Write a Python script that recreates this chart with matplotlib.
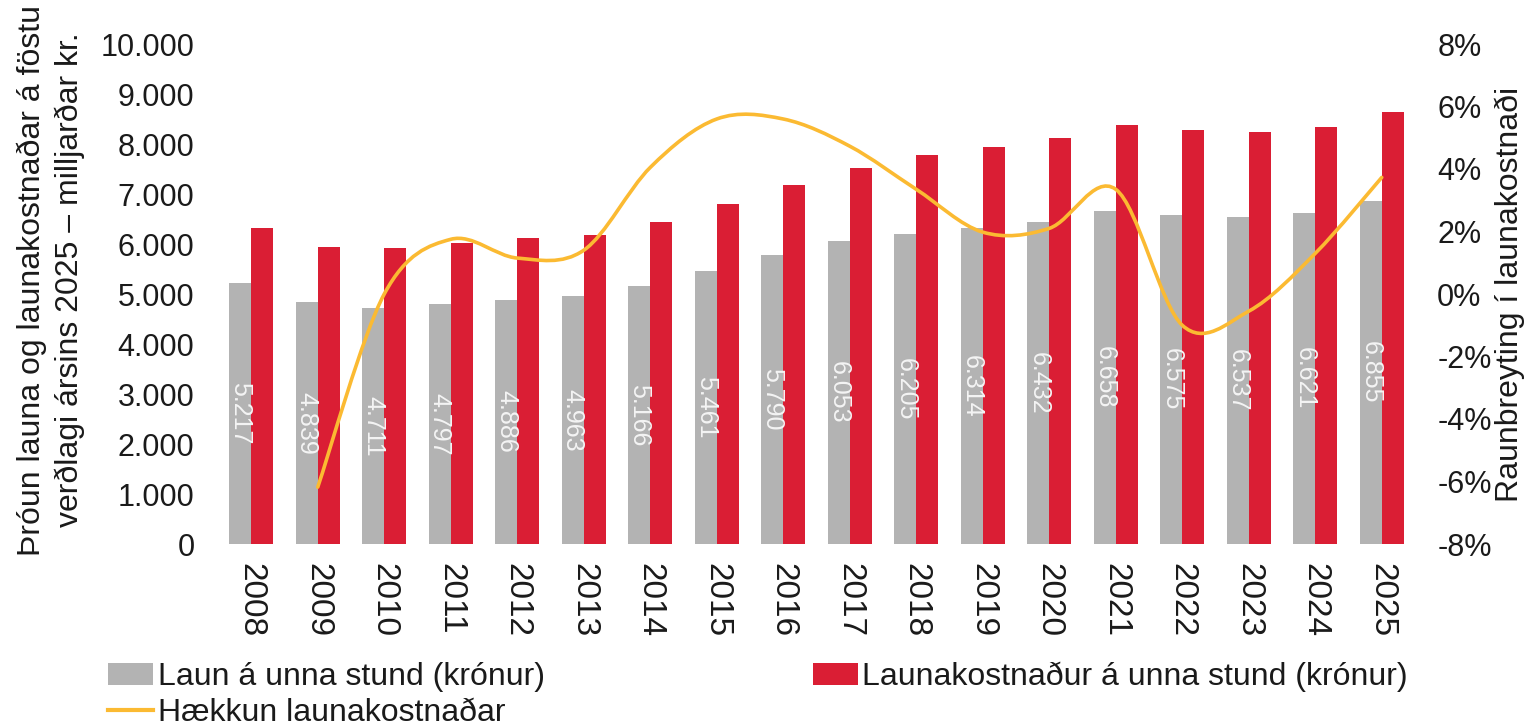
import matplotlib
matplotlib.use("Agg")
import matplotlib.pyplot as plt
import numpy as np
from matplotlib.path import Path
from matplotlib.patches import PathPatch, Patch
from matplotlib.lines import Line2D
from matplotlib.ticker import FuncFormatter, FixedLocator

plt.rcParams['font.family'] = ['Liberation Sans', 'DejaVu Sans']

years = ["2008", "2009", "2010", "2011", "2012", "2013", "2014", "2015", "2016",
         "2017", "2018", "2019", "2020", "2021", "2022", "2023", "2024", "2025"]
laun = [5217, 4839, 4711, 4797, 4886, 4963, 5166, 5461, 5790,
        6053, 6205, 6314, 6432, 6658, 6575, 6537, 6621, 6855]
launakostnadur = [6320, 5940, 5930, 6020, 6115, 6190, 6440, 6800, 7180,
                  7530, 7790, 7940, 8115, 8380, 8290, 8240, 8345, 8645]
# yearly real change in labour cost (%), starting 2009
haekkun_years = years[1:]
haekkun = [-6.18, 0.0, 1.75, 1.15, 1.4, 4.05, 5.6, 5.6,
           4.73, 3.35, 1.98, 2.1, 3.35, -1.0, -0.55, 1.3, 3.73]

legend_labels = ["Laun á unna stund (krónur)",
                 "Launakostnaður á unna stund (krónur)",
                 "Hækkun launakostnaðar"]
ylabel_left = "Þróun launa og launakostnaðar á föstu\nverðlagi ársins 2025 – milljarðar kr."
ylabel_right = "Raunbreyting í launakostnaði"

GREY = "#B3B3B3"
RED = "#DA1E34"
YELLOW = "#FBBA32"
TXT = "#1a1a1a"
FS = 22

fig = plt.figure(figsize=(15.3, 7.28), dpi=100)
ax = fig.add_axes([218/1530, 1-544/728, (1415-218)/1530, 500/728])
ax2 = ax.twinx()

x = np.arange(len(years))
w = 0.33
bg = ax.bar(x - w/2, laun, width=w, color=GREY, zorder=2)
br = ax.bar(x + w/2, launakostnadur, width=w, color=RED, zorder=2)
ax.bar_label(bg, labels=[f"{v:,}".replace(",", ".") for v in laun],
             label_type='center', rotation=270, color="#F4F4F4", fontsize=18)

ax.set_xlim(-0.5, len(years) - 0.5)
ax.set_ylim(0, 10000)
ax.yaxis.set_major_locator(FixedLocator(np.arange(0, 10001, 1000)))
ax.yaxis.set_major_formatter(FuncFormatter(lambda v, p: f"{int(v):,}".replace(",", ".")))
ax.set_xticks(x)
ax.set_xticklabels(years, rotation=270, fontsize=24, color=TXT)
ax.tick_params(axis='x', length=0, pad=14)
ax.tick_params(axis='y', length=0, pad=17, labelsize=FS, labelcolor=TXT)

# smoothed line (Excel-like Catmull-Rom / Bezier)
lx = np.array([years.index(y) for y in haekkun_years], dtype=float)
ly = np.array(haekkun, dtype=float)
pts = np.column_stack([lx, ly])
verts = [tuple(pts[0])]
codes = [Path.MOVETO]
n = len(pts)
for i in range(n - 1):
    p0 = pts[i - 1] if i > 0 else pts[i]
    p1 = pts[i]
    p2 = pts[i + 1]
    p3 = pts[i + 2] if i + 2 < n else pts[i + 1]
    c1 = p1 + (p2 - p0) / 6.0
    c2 = p2 - (p3 - p1) / 6.0
    verts += [tuple(c1), tuple(c2), tuple(p2)]
    codes += [Path.CURVE4] * 3
ax2.add_patch(PathPatch(Path(verts, codes), facecolor='none', edgecolor=YELLOW,
                        lw=2.6, capstyle='round', joinstyle='round', zorder=3))
ax2.set_ylim(-8, 8)
ax2.yaxis.set_major_locator(FixedLocator(np.arange(-8, 9, 2)))
ax2.yaxis.set_major_formatter(FuncFormatter(lambda v, p: f"{int(round(v))}%"))
ax2.tick_params(axis='y', length=0, pad=16, labelsize=FS, labelcolor=TXT)

for a in (ax, ax2):
    for s in a.spines.values():
        s.set_visible(False)

fig.text(51/1530, 1-280/728, ylabel_left, rotation=90, ha='center', va='center',
         multialignment='center', fontsize=23, color=TXT, linespacing=1.3)
fig.text(1510/1530, 1-294/728, ylabel_right, rotation=90, ha='center', va='center',
         fontsize=23, color=TXT)

handles = [Patch(facecolor=GREY), Line2D([], [], color=YELLOW, lw=3),
           Patch(facecolor=RED)]
labels = [legend_labels[0], legend_labels[2], legend_labels[1]]
fig.legend(handles, labels, ncol=2, loc='upper left',
           bbox_to_anchor=(108/1530, 1-662/728), frameon=False, fontsize=23,
           handlelength=1.4, handleheight=0.7, handletextpad=0.15,
           columnspacing=8.4, labelspacing=0.18, borderpad=0, borderaxespad=0,
           labelcolor=TXT)

fig.savefig("out.png", dpi=100)
